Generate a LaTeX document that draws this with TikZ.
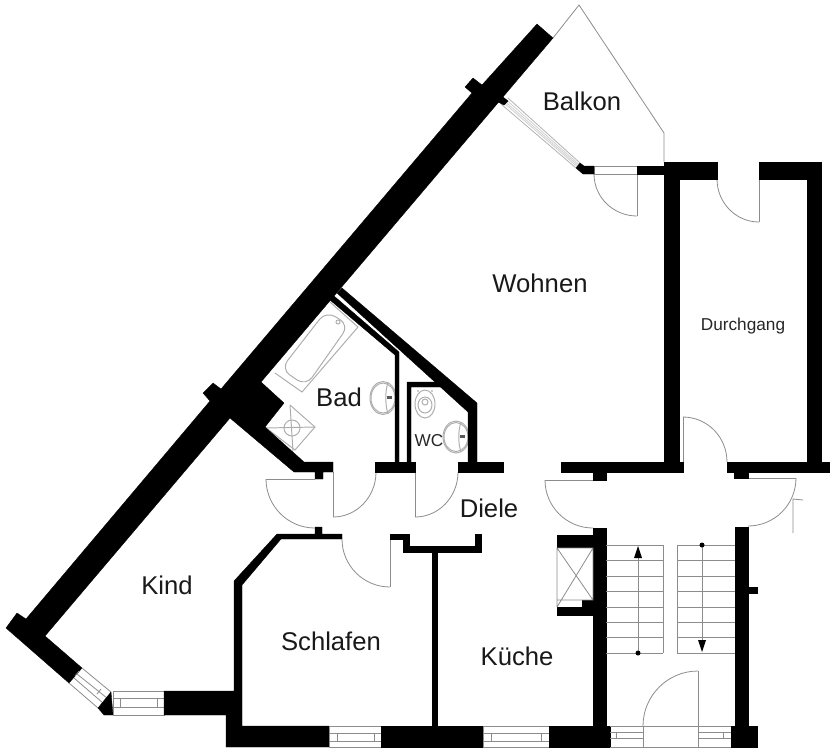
\documentclass[tikz,border=0pt]{standalone}
\usepackage{fontspec}
\setmainfont{Liberation Sans}
\newcommand\qarc[6]{\draw[fine] ({#1+#3},{#2+#4}) .. controls ({#1+#3+.5523*#5},{#2+#4+.5523*#6}) and ({#1+#5+.5523*#3},{#2+#6+.5523*#4}) .. ({#1+#5},{#2+#6});}
\tikzset{
  wall/.style={fill=black,draw=black,line width=0.2pt,line join=miter},
  fine/.style={draw=black!45,line width=0.45pt},
  fix/.style={draw=black!32,line width=0.55pt},
  big/.style={font=\fontsize{14.6}{16}\selectfont,text=black!90,inner sep=0pt},
  small/.style={font=\fontsize{9.8}{11}\selectfont,text=black!85,inner sep=0pt},
}
\begin{document}
\begin{tikzpicture}[x=0.02cm,y=-0.02cm]
\fill[white] (0,0) rectangle (834,752);
\useasboundingbox (0,0) rectangle (834,752);
% balcony outline
\draw[fine] (553,38) -- (579,5) -- (664,133) -- (664,162);
% balcony window
\draw[draw=black!30,line width=0.45pt] (501,104) -- (576,168) (508,98) -- (580,163);
\draw[draw=black!20,line width=0.4pt] (503,102) -- (577,166.5) (504.5,101) -- (578,165.5) (506,99.5) -- (579,164.5);
% balcony door
\draw[fine] (594,166) rectangle (637,174);
\draw[fine] (637,174) -- (637,216);
\qarc{637}{174}{0}{42}{-43}{0}
% Durchgang doors
\draw[fine] (759,179) -- (759,222);
\qarc{759}{179}{0}{43}{-42}{0}
\draw[fine] (683,462) -- (683,417);
\qarc{683}{462}{0}{-45}{44}{0}
% Diele doors
\draw[fine] (593,480) -- (545,480);
\qarc{593}{480}{-48}{0}{0}{48}
\draw[fine] (748,478) -- (796,478);
\qarc{748}{478}{48}{0}{0}{48}
\draw[fine] (793,533) -- (793,499) -- (803,500);
% room doors
\draw[fine] (333,472) -- (333,517);
\qarc{333}{472}{0}{45}{43}{0}
\draw[fine] (415,472) -- (415,517);
\qarc{415}{472}{0}{45}{43}{0}
\draw[fine] (315,479) -- (266,479);
\qarc{315}{479}{-49}{0}{0}{49}
\draw[fine] (390,539) -- (390,587);
\qarc{390}{539}{0}{48}{-48}{0}
% bath
\draw[fix] (330,302) -- (358,327) -- (302,392) -- (275,373);
\draw[fix,rounded corners=6pt] (326,311) -- (349,325) -- (306,386) -- (281,369) -- cycle;
\draw[fix] (338,322) circle [radius=2];
% shower
\draw[fix] (290,405) -- (315,427) -- (295,450) -- (265,427);
\draw[fix] (290,405) -- (293,451) (265,428) -- (315,427);
\draw[fix] (292,428) circle [radius=8];
% sinks
\draw[fix] (383,398) ellipse [x radius=13,y radius=16.5];
\draw[fix] (383,398) ellipse [x radius=12,y radius=15];
\draw[fix] (388,382) .. controls (385,392) and (385,404) .. (388,414);
\fill[black!65] (387,396) rectangle (392,399);
\draw[fix] (456,437) ellipse [x radius=13,y radius=16];
\draw[fix] (456,437) ellipse [x radius=12,y radius=14.5];
\draw[fix] (461,422) .. controls (458,431) and (458,443) .. (461,452);
\fill[black!65] (460,435) rectangle (465,438);
% toilet
\draw[fix] (425,404) ellipse [x radius=10,y radius=14];
\draw[fix] (425,405) ellipse [x radius=7,y radius=8];
\draw[fix] (425,402) circle [radius=3];
\fill[black!40] (418,391) circle [radius=0.8] (432,391) circle [radius=0.8];
% main walls
\fill[wall] (6,628) -- (17,613) -- (26,619) -- (210,401) -- (203,393) -- (213,383) -- (221,389)
  -- (472,93) -- (465,87) -- (473,78) -- (482,85) -- (537,24) -- (553,38) -- (261,382) -- (284,403)
  -- (265,427) -- (304,462) -- (333,462) -- (333,472) -- (323,472) -- (323,479) -- (315,479) -- (315,472)
  -- (294,472) -- (230,418) -- (45,636) -- (82,668) -- (69,683) -- cycle;
\fill[wall] (498,102) -- (503,97) -- (508,101) -- (504,105) -- cycle;
% bathroom partitions
\fill[wall] (337,293) -- (342,288) -- (477,403) -- (477,462) -- (468,462) -- (468,412) -- cycle;
\fill[wall] (330,300) -- (334,296) -- (399,352) -- (399,462) -- (395,462) -- (395,355) -- cycle;
\fill[wall] (407,462) -- (407,382) -- (440,382) -- (445,387) -- (411,387) -- (411,462) -- cycle;
\fill[wall] (375,462) rectangle (415,472);
\fill[wall] (458,462) rectangle (503,472);
% Wohnen / Durchgang walls
\fill[wall] (561,462) -- (664,462) -- (664,174) -- (637,174) -- (637,166) -- (664,166) -- (664,162)
  -- (717,162) -- (717,179) -- (679,179) -- (679,462) -- (683,462) -- (683,472) -- (606,472) -- (606,480)
  -- (593,480) -- (593,472) -- (561,472) -- cycle;
\fill[wall] (759,162) -- (821,162) -- (821,462) -- (829,462) -- (829,472) -- (748,472) -- (748,478)
  -- (734,478) -- (734,472) -- (727,472) -- (727,462) -- (807,462) -- (807,179) -- (759,179) -- cycle;
\fill[wall] (576,168) -- (580,163) -- (584,166) -- (594,166) -- (594,174) -- (583,174) -- cycle;
% Kind bottom window
\draw[fine] (82,668) -- (111,692) (69,683) -- (98,708) (77,674) -- (107,698) (74,678) -- (103,703);
\draw[fine] (75,676) -- (79,671) (97,694) -- (101,689);
\fill[wall] (98,708) -- (111,692) -- (113,715) -- (104,715) -- cycle;
\draw[fine] (113,691) rectangle (164,715) (113,698) -- (164,698) (113,707) -- (164,707) (120,698) -- (120,707) (157,698) -- (157,707);
% Schlafen walls
\fill[wall] (164,691) -- (234,691) -- (234,581) -- (277,534) -- (315,534) -- (315,527) -- (322,527) -- (322,534)
  -- (342,534) -- (342,539) -- (281,539) -- (242,585) -- (242,726) -- (329,726) -- (329,747) -- (226,747)
  -- (226,715) -- (164,715) -- cycle;
\draw[fine] (329,726) rectangle (381,747) (329,733) -- (381,733) (329,741) -- (381,741) (337,733) -- (337,741) (374,733) -- (374,741);
\fill[wall] (381,726) rectangle (483,747);
\draw[fine] (483,726) rectangle (549,747) (483,733) -- (549,733) (483,741) -- (549,741) (491,733) -- (491,741) (541,733) -- (541,741);
\fill[wall] (432,552) rectangle (437,726);
\fill[wall] (390,534) -- (409,534) -- (409,546) -- (475,546) -- (475,534) -- (481,534) -- (481,552) -- (403,552) -- (403,539) -- (390,539) -- cycle;
% stairwell
\fill[wall] (593,528) rectangle (606,727);
\fill[wall] (549,726) rectangle (610,747);
\fill[wall] (557,535) rectangle (593,547);
\fill[wall] (557,607) rectangle (593,615);
\fill[wall] (582,600) rectangle (593,607);
\draw[fine] (557,548) rectangle (593,600) (557,548) -- (593,600) (593,548) -- (557,607) (557,600) -- (557,607);
\fill[wall] (735,527) rectangle (748,727);
\fill[wall] (731,726) rectangle (757,747);
\fill[wall] (748,587) rectangle (757,593);
% stairs
\foreach \yy in {545,560,576,591,607,622,637,653}{\draw[fine] (606,\yy) -- (663,\yy) (677,\yy) -- (735,\yy);}
\draw[fine] (663,545) -- (663,653) (677,545) -- (677,653);
\draw[fine] (638,653) -- (638,555) (702,545) -- (702,642);
\fill[black] (638,653) circle [radius=2.5] (702,545) circle [radius=2.5];
\fill[black] (638,546) -- (642,558) -- (634,558) -- cycle;
\fill[black] (702,652) -- (698,640) -- (706,640) -- cycle;
% entrance
\draw[fine] (698,671) -- (698,747);
\qarc{698}{726}{0}{-55}{-55}{0}
\draw[fine] (610,726) -- (731,726) (643,726) -- (643,747) (610,747) -- (731,747);
\draw[fine] (610,732) -- (643,732) (610,738) -- (643,738) (698,732) -- (731,732) (698,738) -- (731,738) (616,732) -- (616,738) (723,732) -- (723,738);
% labels
\node[big] (balkon) at (582,101) {Balkon};
\node[big] (wohnen) at (540,283) {Wohnen};
\node[small] (durch) at (743,326) {Durchgang};
\node[small] (wc) at (429,441) {WC};
\node[big] (bad) at (339,397) {Bad};
\node[big] (diele) at (489,508) {Diele};
\node[big] (kind) at (167,585) {Kind};
\node[big] (schlafen) at (331,641) {Schlafen};
\node[big] (kueche) at (517,656) {Küche};
\end{tikzpicture}
\end{document}
